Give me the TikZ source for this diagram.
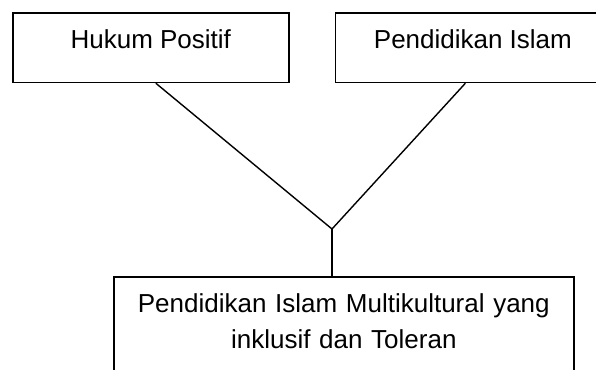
\documentclass[tikz,border=0pt]{standalone}
\usepackage{fontspec}
\setmainfont{Liberation Sans}
\usetikzlibrary{positioning}
\tikzset{kotak/.style = {draw, line width = 1.6pt, inner xsep = 0, inner ysep = 17pt, text height = 18.6pt, align = center, font = \fontsize{26}{36}\selectfont}}
\tikzset{garis/.style = {line width = 1.4pt}}

\begin{document}
\begin{tikzpicture}[x = 1pt, y = -1pt]
    \useasboundingbox (0, 0) rectangle (596, 369);
    \node [kotak, anchor = north west, minimum width = 276pt, text depth = 17pt] (hukum) at (12, 12) {Hukum Positif};
    \node [kotak, minimum width = 275pt, text depth = 17pt, right = 45pt of hukum] (islam) {Pendidikan Islam};
    \node [kotak, anchor = north west, text width = 460pt, text depth = 120pt] (hasil) at (113, 276) {Pendidikan Islam Multikultural yang\\ inklusif dan Toleran};

    \coordinate (temu) at (332, 229);
    \draw [garis] ([xshift = 5pt] hukum.south) -- (temu);
    \draw [garis] ([xshift = -7.5pt] islam.south) -- (temu);
    \draw [garis] (temu) -- (temu |- hasil.north);
\end{tikzpicture}
\end{document}
